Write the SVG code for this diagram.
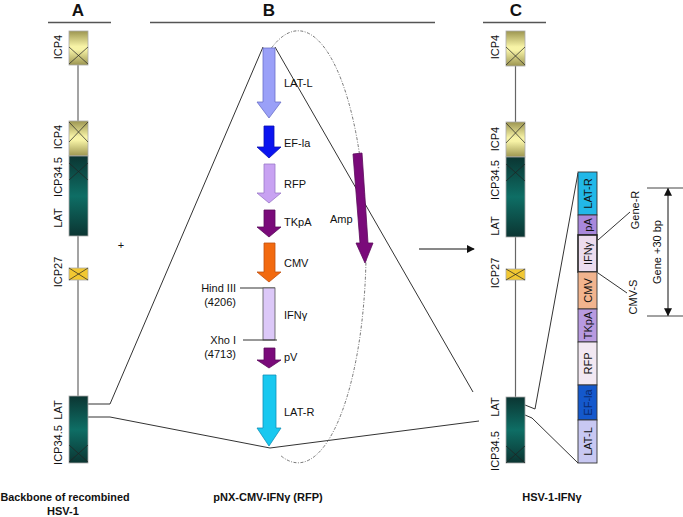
<svg xmlns="http://www.w3.org/2000/svg" width="683" height="517" viewBox="0 0 683 517">
<defs>
<linearGradient id="gY" x1="0" y1="0" x2="0" y2="1">
<stop offset="0" stop-color="#9c9550"/><stop offset="0.45" stop-color="#f7f3a6"/><stop offset="0.55" stop-color="#f7f3a6"/><stop offset="1" stop-color="#9c9550"/>
</linearGradient>
<linearGradient id="gT" x1="0" y1="0" x2="0" y2="1">
<stop offset="0" stop-color="#0b3532"/><stop offset="0.5" stop-color="#0e6e65"/><stop offset="1" stop-color="#0b3532"/>
</linearGradient>
<marker id="ah" viewBox="0 0 10 10" refX="9" refY="5" markerWidth="8" markerHeight="8" orient="auto-start-reverse" markerUnits="userSpaceOnUse">
<path d="M0,0 L10,5 L0,10 z" fill="#111"/>
</marker>
</defs>
<style>
text{font-family:"Liberation Sans",Arial,sans-serif;fill:#111}
.lbl{font-size:11px}
.hd{font-size:17px;font-weight:bold}
.bt{font-size:11px;font-weight:bold;text-anchor:middle}
.mid{text-anchor:middle}
.ln{stroke:#333;stroke-width:1;fill:none}
.gl{stroke:#666;stroke-width:1.2;fill:none}
.bx{stroke:#aaa;stroke-width:0.8}
.x{stroke:#222;stroke-width:0.7;fill:none}
.seg{stroke:#333;stroke-width:0.9}
</style>
<rect width="683" height="517" fill="#fff"/>

<!-- headers -->
<g id="headers">
<text class="hd mid" x="78" y="16">A</text>
<line x1="48" y1="22.5" x2="111" y2="22.5" stroke="#555" stroke-width="1.3"/>
<text class="hd mid" x="269" y="16">B</text>
<line x1="150" y1="22.5" x2="435" y2="22.5" stroke="#555" stroke-width="1.3"/>
<text class="hd mid" x="516" y="16">C</text>
<line x1="483" y1="22.5" x2="546" y2="22.5" stroke="#555" stroke-width="1.3"/>
</g>

<!-- connectors -->
<g id="connectors">
<polyline class="ln" points="88,404 110,404 263,47"/>
<line class="ln" x1="275" y1="47" x2="473" y2="392"/>
<polyline class="ln" points="88,417 110,417 270,448 479,421"/>
<path d="M271.5,48 A68 216 0 1 1 280,455" fill="none" stroke="#666" stroke-width="0.9" stroke-dasharray="3,1.5,1,1.5"/>
<line x1="419" y1="249" x2="474" y2="249" stroke="#111" stroke-width="1" marker-end="url(#ah)"/>
<polyline class="ln" points="525,405 535,409 578,173"/>
<polyline class="ln" points="525,415 532,418 578,463"/>
<line class="ln" x1="598" y1="240" x2="630" y2="212"/>
<line class="ln" x1="598" y1="273" x2="627" y2="293"/>
<line x1="647" y1="188" x2="683" y2="188" stroke="#444" stroke-width="1"/>
<line x1="647" y1="316" x2="683" y2="316" stroke="#444" stroke-width="1"/>
<line x1="668" y1="188.5" x2="668" y2="315.5" stroke="#111" stroke-width="1" marker-start="url(#ah)" marker-end="url(#ah)"/>
</g>

<!-- Panel A genome -->
<g id="genomeA">
<line class="gl" x1="78" y1="65" x2="78" y2="122"/>
<line class="gl" x1="78" y1="236" x2="78" y2="269"/>
<line class="gl" x1="78" y1="280" x2="78" y2="397"/>
<rect class="bx" x="69" y="31" width="19" height="34" fill="url(#gY)"/>
<path class="x" d="M69,47 L88,64 M88,47 L69,64"/>
<rect class="bx" x="69" y="121" width="19" height="35" fill="url(#gY)"/>
<path class="x" d="M69,122 L88,142 M88,122 L69,142"/>
<rect class="bx" x="69" y="156" width="19" height="80" fill="url(#gT)"/>
<path class="x" d="M69,163 L88,180 M88,163 L69,180"/>
<rect class="bx" x="69" y="268" width="19" height="12" fill="#f2c832"/>
<path class="x" d="M69,268 L88,280 M88,268 L69,280"/>
<rect class="bx" x="69" y="396" width="19" height="67" fill="url(#gT)"/>
<path class="x" d="M69,445 L88,462 M88,445 L69,462"/>
<text class="lbl mid" transform="translate(62,47) rotate(-90)">ICP4</text>
<text class="lbl mid" transform="translate(62,137) rotate(-90)">ICP4</text>
<text class="lbl mid" transform="translate(62,177) rotate(-90)">ICP34.5</text>
<text class="lbl mid" transform="translate(62,218) rotate(-90)">LAT</text>
<text class="lbl mid" transform="translate(62,272) rotate(-90)">ICP27</text>
<text class="lbl mid" transform="translate(62,410) rotate(-90)">LAT</text>
<text class="lbl mid" transform="translate(62,445) rotate(-90)">ICP34.5</text>
<text x="121" y="249" class="lbl mid" fill="#333">+</text>
<text class="bt" x="65" y="501" style="font-size:10.8px">Backbone of recombined</text>
<text class="bt" x="63" y="515">HSV-1</text>
</g>

<!-- Panel B plasmid -->
<g id="plasmidB">
<polygon points="263,48 275,48 275,102 281,102 269,118 257,102 263,102" fill="#9aa0f8" stroke="#6a70c8" stroke-width="0.8"/>
<text class="lbl" x="284" y="87">LAT-L</text>
<polygon points="264,126 274,126 274,147 281,147 269,158 257,147 264,147" fill="#0a14f0" stroke="#0a10b0" stroke-width="0.8"/>
<text class="lbl" x="284" y="147">EF-la</text>
<polygon points="264,164 275,164 275,193 281,193 269,203 257,193 264,193" fill="#c8a2f2" stroke="#9a78c8" stroke-width="0.8"/>
<text class="lbl" x="284" y="188">RFP</text>
<polygon points="264,210 275,210 275,227 281,227 269,237 257,227 264,227" fill="#7a0a7a" stroke="#5a0a5a" stroke-width="0.8"/>
<text class="lbl" x="284" y="226">TKpA</text>
<polygon points="264,243 275,243 275,272 281,272 269,282 257,272 264,272" fill="#f26a10" stroke="#c05010" stroke-width="0.8"/>
<text class="lbl" x="284" y="267">CMV</text>
<line class="ln" x1="240" y1="288" x2="275" y2="288"/>
<rect x="263" y="288" width="12" height="52" fill="#dcc8f8" stroke="#555" stroke-width="0.8"/>
<line class="ln" x1="243" y1="340" x2="277" y2="340"/>
<text class="lbl" x="236" y="292" text-anchor="end">Hind III</text>
<text class="lbl" x="236" y="306" text-anchor="end">(4206)</text>
<text class="lbl" x="284" y="319">IFNγ</text>
<text class="lbl" x="236" y="344" text-anchor="end">Xho I</text>
<text class="lbl" x="236" y="358" text-anchor="end">(4713)</text>
<polygon points="264,348 275,348 275,360 281,360 269,368 257,360 264,360" fill="#7a0a7a" stroke="#5a0a5a" stroke-width="0.8"/>
<text class="lbl" x="284" y="361">pV</text>
<polygon points="263,375 276,375 276,428 281,428 269,446 257,428 263,428" fill="#18c8f0" stroke="#1090b8" stroke-width="0.8"/>
<text class="lbl" x="284" y="416">LAT-R</text>
<polygon points="353,154 362,153 368,243 373,243 365,263 356,243 360,243" fill="#7a0a7a" stroke="#5a0a5a" stroke-width="0.8"/>
<text class="lbl" x="330" y="223">Amp</text>
<text class="bt" x="268" y="501">pNX-CMV-IFNγ (RFP)</text>
</g>

<!-- Panel C genome -->
<g id="genomeC">
<line class="gl" x1="515.5" y1="66" x2="515.5" y2="122"/>
<line class="gl" x1="515.5" y1="237" x2="515.5" y2="269"/>
<line class="gl" x1="515.5" y1="280" x2="515.5" y2="397"/>
<rect class="bx" x="506" y="31" width="19" height="35" fill="url(#gY)"/>
<path class="x" d="M506,47 L525,65 M525,47 L506,65"/>
<rect class="bx" x="506" y="122" width="19" height="35" fill="url(#gY)"/>
<path class="x" d="M506,123 L525,143 M525,123 L506,143"/>
<rect class="bx" x="506" y="157" width="19" height="80" fill="url(#gT)"/>
<path class="x" d="M506,164 L525,181 M525,164 L506,181"/>
<rect class="bx" x="506" y="269" width="19" height="11" fill="#f2c832"/>
<path class="x" d="M506,269 L525,280 M525,269 L506,280"/>
<rect class="bx" x="506" y="397" width="19" height="66" fill="url(#gT)"/>
<path class="x" d="M506,446 L525,463 M525,446 L506,463"/>
<text class="lbl mid" transform="translate(499,47) rotate(-90)">ICP4</text>
<text class="lbl mid" transform="translate(499,139) rotate(-90)">ICP4</text>
<text class="lbl mid" transform="translate(499,180) rotate(-90)">ICP34.5</text>
<text class="lbl mid" transform="translate(499,226) rotate(-90)">LAT</text>
<text class="lbl mid" transform="translate(499,273) rotate(-90)">ICP27</text>
<text class="lbl mid" transform="translate(499,407) rotate(-90)">LAT</text>
<text class="lbl mid" transform="translate(499,451) rotate(-90)">ICP34.5</text>
<text class="bt" x="552" y="501">HSV-1-IFNγ</text>
</g>

<!-- insert bar -->
<g id="insertBar">
<rect class="seg" x="578" y="172" width="19" height="43" fill="#22b8e8"/>
<rect class="seg" x="578" y="215" width="19" height="20" fill="#a888dc"/>
<rect x="578" y="235" width="19" height="37" fill="#ecdcee" stroke="#222" stroke-width="1.6"/>
<rect class="seg" x="578" y="272" width="19" height="37" fill="#f2b48e"/>
<rect class="seg" x="578" y="309" width="19" height="33" fill="#b89ae0"/>
<rect class="seg" x="578" y="342" width="19" height="43" fill="#f2e8f2"/>
<rect class="seg" x="578" y="385" width="19" height="35" fill="#1458cc"/>
<rect class="seg" x="578" y="420" width="19" height="43" fill="#c8c8f2"/>
<text class="lbl mid" transform="translate(591.5,193.5) rotate(-90)">LAT-R</text>
<text class="lbl mid" transform="translate(591.5,225) rotate(-90)">pA</text>
<text class="lbl mid" transform="translate(591.5,253.5) rotate(-90)">IFNγ</text>
<text class="lbl mid" transform="translate(591.5,290.5) rotate(-90)">CMV</text>
<text class="lbl mid" transform="translate(591.5,325.5) rotate(-90)">TKpA</text>
<text class="lbl mid" transform="translate(591.5,363.5) rotate(-90)">RFP</text>
<text class="lbl mid" transform="translate(591.5,402.5) rotate(-90)" style="fill:#0a2a70">EF-la</text>
<text class="lbl mid" transform="translate(591.5,441.5) rotate(-90)">LAT-L</text>
<text class="lbl mid" transform="translate(639,210) rotate(-90)">Gene-R</text>
<text class="lbl mid" transform="translate(637,297) rotate(-90)">CMV-S</text>
<text class="lbl mid" transform="translate(661,252) rotate(-90)">Gene +30 bp</text>
</g>
</svg>
